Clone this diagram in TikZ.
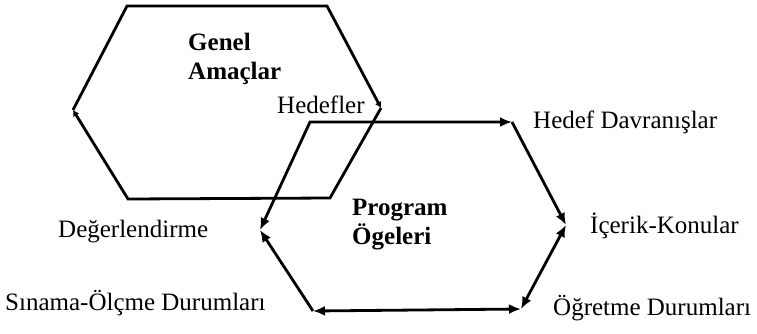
\documentclass[tikz,border=0pt]{standalone}
\usepackage{fontspec}
\setmainfont{Liberation Serif}
\usetikzlibrary{arrows.meta}
\begin{document}
\begin{tikzpicture}[x=1pt,y=-1pt,
  edge/.style={line width=2.8pt, line join=miter},
  tip/.style={-{Latex[length=12pt,width=10pt]}},
  both/.style={{Latex[length=12pt,width=10pt]}-{Latex[length=12pt,width=10pt]}},
  small/.style={-{Latex[length=6pt,width=7pt]}},
  lbl/.style={inner sep=0pt, font=\fontsize{25}{28}\selectfont},
  title/.style={inner sep=0pt, align=left, font=\fontsize{25}{29}\selectfont\bfseries}]
\useasboundingbox (0,0) rectangle (757,333);
% top hexagon vertices
\coordinate (A1) at (127,6);
\coordinate (A2) at (327,6);
\coordinate (A3) at (381,108);
\coordinate (A4) at (330,198);
\coordinate (A5) at (128,199);
\coordinate (A6) at (73,110);
% lower hexagon vertices
\coordinate (B1) at (310,122);
\coordinate (B2) at (512,122);
\coordinate (B3) at (566,225);
\coordinate (B4) at (521,309);
\coordinate (B5) at (313,311);
\coordinate (B6) at (260,230);
% top hexagon
\draw[edge, small] (A6) -- (A1) -- (A2) -- (A3);
\draw[edge, small] (A3) -- (A4) -- (A5) -- (A6);
% lower hexagon
\draw[edge, both] (B6) -- (B1) -- (B2);
\draw[edge, tip] (B2) -- (B3);
\draw[edge, both] (B3) -- (B4);
\draw[edge, both] (B4) -- (B5);
\draw[edge, tip] (B5) -- (B6);
% titles
\node[title, anchor=north west] (genel) at (188,33) {Genel\\Amaçlar};
\node[title, anchor=north west] (prog) at (352,199) {Program\\Ögeleri};
% labels
\node[lbl, anchor=base west] (hed) at (277,113) {Hedefler};
\node[lbl, anchor=base west] (hd) at (533,128) {Hedef Davranışlar};
\node[lbl, anchor=base west] (ik) at (590,233) {İçerik-Konular};
\node[lbl, anchor=base west] (od) at (553,315) {Öğretme Durumları};
\node[lbl, anchor=base west] (so) at (5,310) {Sınama-Ölçme Durumları};
\node[lbl, anchor=base west] (dg) at (58,237) {Değerlendirme};
\end{tikzpicture}
\end{document}
